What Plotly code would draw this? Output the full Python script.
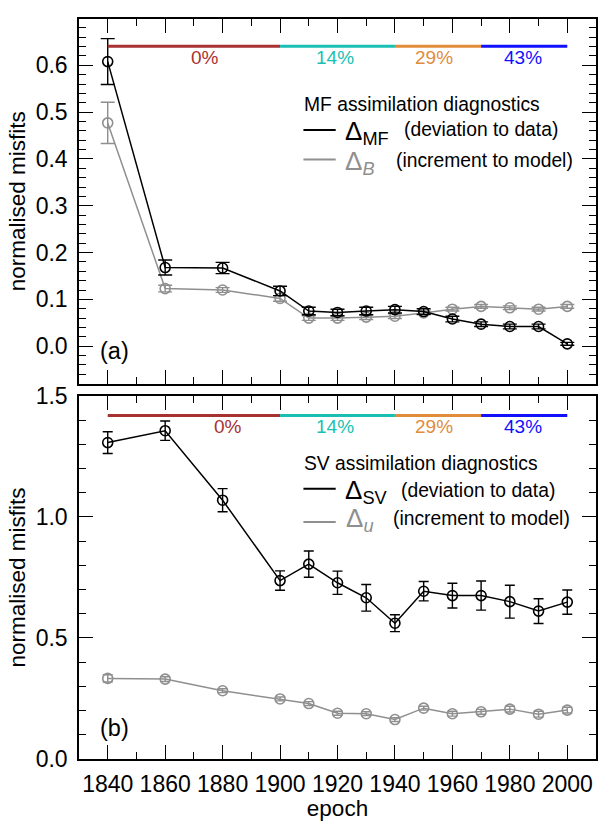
import plotly.graph_objects as go

# ---------------- data ----------------
epochs = [1840, 1860, 1880, 1900, 1910, 1920, 1930, 1940, 1950, 1960, 1970, 1980, 1990, 2000]

mf_dev = [0.608, 0.168, 0.167, 0.118, 0.075, 0.072, 0.075, 0.078, 0.074, 0.058, 0.047, 0.042, 0.042, 0.005]
mf_dev_err = [0.049, 0.016, 0.012, 0.010, 0.008, 0.007, 0.008, 0.007, 0.006, 0.006, 0.005, 0.005, 0.005, 0.003]
mf_inc = [0.477, 0.123, 0.120, 0.102, 0.060, 0.060, 0.062, 0.064, 0.071, 0.079, 0.085, 0.082, 0.079, 0.085]
mf_inc_err = [0.044, 0.007, 0.005, 0.006, 0.005, 0.005, 0.005, 0.005, 0.004, 0.004, 0.004, 0.004, 0.004, 0.004]

sv_dev = [1.307, 1.356, 1.069, 0.737, 0.805, 0.728, 0.666, 0.561, 0.693, 0.675, 0.675, 0.650, 0.611, 0.648]
sv_dev_err = [0.045, 0.040, 0.048, 0.040, 0.054, 0.048, 0.055, 0.035, 0.040, 0.051, 0.060, 0.068, 0.051, 0.050]
sv_inc = [0.333, 0.330, 0.282, 0.248, 0.229, 0.189, 0.187, 0.163, 0.210, 0.187, 0.195, 0.206, 0.185, 0.202]
sv_inc_err = [0.015, 0.010, 0.008, 0.008, 0.008, 0.008, 0.008, 0.008, 0.008, 0.010, 0.010, 0.012, 0.012, 0.012]

period_start = [1840, 1900, 1940, 1970]
period_end = [1900, 1940, 1970, 2000]
period_labels = ["0%", "14%", "29%", "43%"]
period_colors = ["#a83232", "#1abfb4", "#e08c3a", "#1010ff"]

# ---------------- layout helpers ----------------
W, H = 604, 821
L, R, T, B = 79, 6, 9, 57
FONT = "Liberation Sans, Arial, Helvetica, sans-serif"
GRAY = "#8f8f8f"


def fx(px):
    return (px - L) / (W - L - R)


def fy(py):
    return (H - B - py) / (H - T - B)


fig = go.Figure()


def add_series(x, y, err, color, xa, ya, cap):
    fig.add_trace(go.Scatter(
        x=x, y=y, mode="lines+markers", xaxis=xa, yaxis=ya,
        line=dict(color=color, width=1.5),
        marker=dict(symbol="circle-open", size=10, color=color, line=dict(width=1.6, color=color)),
        error_y=dict(type="data", array=err, visible=True, color=color, thickness=1.4, width=cap),
        showlegend=False, hoverinfo="skip"))


# top panel (a)
add_series(epochs, mf_inc, mf_inc_err, GRAY, "x", "y", 7)
add_series(epochs, mf_dev, mf_dev_err, "black", "x", "y", 7)
# bottom panel (b)
add_series(epochs, sv_inc, sv_inc_err, GRAY, "x2", "y2", 5)
add_series(epochs, sv_dev, sv_dev_err, "black", "x2", "y2", 5)

# coloured period bars
bar_level_top = 0.641
bar_level_bot = 1.419
for s, e, c in zip(period_start, period_end, period_colors):
    fig.add_trace(go.Scatter(x=[s, e], y=[bar_level_top, bar_level_top], mode="lines",
                             line=dict(color=c, width=3), xaxis="x", yaxis="y",
                             showlegend=False, hoverinfo="skip"))
    fig.add_trace(go.Scatter(x=[s, e], y=[bar_level_bot, bar_level_bot], mode="lines",
                             line=dict(color=c, width=3), xaxis="x2", yaxis="y2",
                             showlegend=False, hoverinfo="skip"))

label_x_top = [1873.7, 1919.0, 1953.7, 1984.5]
label_x_bot = [1882.0, 1919.0, 1953.7, 1984.5]
annotations = []
for lab, c, xt, xb in zip(period_labels, period_colors, label_x_top, label_x_bot):
    annotations.append(dict(x=xt, y=0.616, xref="x", yref="y", text=lab, showarrow=False,
                            font=dict(size=19, color=c, family=FONT), xanchor="center", yanchor="middle"))
    annotations.append(dict(x=xb, y=1.374, xref="x2", yref="y2", text=lab, showarrow=False,
                            font=dict(size=19, color=c, family=FONT), xanchor="center", yanchor="middle"))


def ann(px, py, text, size, color="black"):
    annotations.append(dict(x=fx(px), y=fy(py), xref="paper", yref="paper", text=text,
                            showarrow=False, xanchor="left", yanchor="middle",
                            font=dict(size=size, color=color, family=FONT)))


shapes = []


def legline(py, color):
    shapes.append(dict(type="line", xref="paper", yref="paper", x0=fx(304.3), x1=fx(336.7),
                       y0=fy(py), y1=fy(py), line=dict(color=color, width=2)))


# legend (a)
ann(302.5, 96.5, "MF assimilation diagnostics", 19.3)
legline(122.3, "black")
legline(152.3, GRAY)
ann(344.5, 125, "Δ<sub>MF</sub>", 26)
ann(403, 122, "(deviation to data)", 19.3)
ann(344.5, 155, "Δ<sub><i>B</i></sub>", 26, GRAY)
ann(395, 153.5, "(increment to model)", 19.3)

# legend (b)
ann(302.5, 462.5, "SV assimilation diagnostics", 19.3)
legline(488.3, "black")
legline(522.3, GRAY)
ann(344.5, 491, "Δ<sub>SV</sub>", 26)
ann(400.5, 490, "(deviation to data)", 19.3)
ann(345, 520, "Δ<sub><i>u</i></sub>", 26, GRAY)
ann(392.5, 518.5, "(increment to model)", 19.3)

# panel labels
ann(98.5, 348, "(a)", 23.5)
ann(98.5, 732, "(b)", 23.5)

tick_common = dict(ticks="inside", tickcolor="black", tickwidth=1.3, ticklen=14,
                   showline=True, linecolor="black", linewidth=1.5, mirror="allticks",
                   showgrid=False, zeroline=False, tickfont=dict(size=23, family=FONT, color="black"))

xcommon = dict(range=[1830, 2010], tick0=1840, dtick=20,
               minor=dict(tick0=1840, dtick=10, ticks="inside", ticklen=7, tickwidth=1.3, tickcolor="black"),
               **tick_common)

top_dom = [fy(381), 1.0]
bot_dom = [0.0, fy(393.5)]

fig.update_layout(
    width=W, height=H,
    margin=dict(l=L, r=R, t=T, b=B),
    paper_bgcolor="white", plot_bgcolor="white",
    font=dict(family=FONT, color="black"),
    showlegend=False,
    xaxis=dict(anchor="y", domain=[0, 1], showticklabels=False, **xcommon),
    yaxis=dict(anchor="x", domain=top_dom, range=[-0.08, 0.699], tick0=0, dtick=0.1, tickformat=".1f",
               minor=dict(tick0=0, dtick=0.02, ticks="inside", ticklen=7, tickwidth=1.3, tickcolor="black"),
               ticklabelstandoff=5,
               title=dict(text="normalised misfits", font=dict(size=22.5, family=FONT), standoff=4),
               **tick_common),
    xaxis2=dict(anchor="y2", domain=[0, 1], ticklabelstandoff=4,
                title=dict(text="epoch", font=dict(size=22.5, family=FONT), standoff=2),
                **xcommon),
    yaxis2=dict(anchor="x2", domain=bot_dom, range=[0, 1.5], tick0=0, dtick=0.5, tickformat=".1f",
                minor=dict(tick0=0, dtick=0.1, ticks="inside", ticklen=7, tickwidth=1.3, tickcolor="black"),
                ticklabelstandoff=5,
                title=dict(text="normalised misfits", font=dict(size=22.5, family=FONT), standoff=4),
                **tick_common),
    annotations=annotations,
    shapes=shapes,
)

fig.write_html("out.html", config={"displayModeBar": False})

# remove the default page margin so the figure sits at the window's top-left corner
with open("out.html", "r", encoding="utf-8") as f:
    html = f.read()
html = html.replace("<head>", "<head><style>html,body{margin:0;padding:0;overflow:hidden;}</style>", 1)
with open("out.html", "w", encoding="utf-8") as f:
    f.write(html)
